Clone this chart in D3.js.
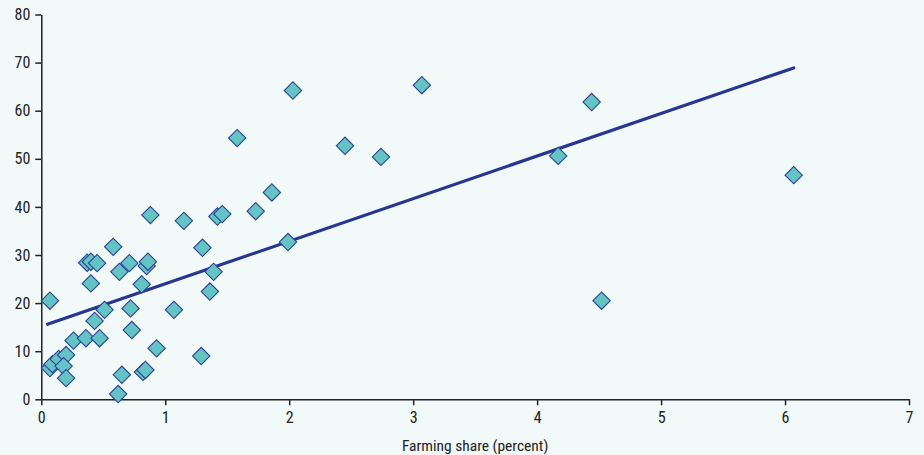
<!DOCTYPE html>
<html>
<head>
<meta charset="utf-8">
<script src="https://cdn.jsdelivr.net/npm/d3@7"></script>
<style>
  html, body { margin: 0; padding: 0; background: #f1f9f9; }
  svg { display: block; }
  text { font-family: "Liberation Sans Narrow", "Arial Narrow", "Roboto Condensed", "Liberation Sans", sans-serif; fill: #222; }
</style>
</head>
<body>
<svg id="chart" width="924" height="455"></svg>
<script>
// Farming share (percent)
const farmingShare = [0.07, 0.37, 0.40, 0.45, 0.58, 0.63, 0.71, 0.85, 0.86, 0.40, 0.81,
  0.51, 0.72, 1.07, 0.43, 0.73, 0.26, 0.36, 0.47, 0.93, 0.07, 0.09, 0.14, 0.20, 0.18, 0.20,
  0.65, 0.82, 0.84, 0.62, 1.86, 1.73, 1.15, 1.42, 1.46, 0.88, 1.30, 1.99, 1.39, 1.36, 1.29,
  1.58, 2.03, 3.07, 2.45, 2.74, 4.44, 4.17, 6.07, 4.52];
// Vertical-axis values
const yValues = [20.5, 28.4, 28.6, 28.3, 31.7, 26.5, 28.3, 27.7, 28.6, 24.1, 23.9,
  18.6, 18.9, 18.6, 16.3, 14.4, 12.2, 12.7, 12.7, 10.6, 6.5, 7.3, 8.4, 9.2, 6.9, 4.4,
  5.1, 5.7, 6.1, 1.1, 43.0, 39.1, 37.1, 38.0, 38.5, 38.3, 31.5, 32.7, 26.5, 22.4, 9.0,
  54.3, 64.2, 65.3, 52.7, 50.4, 61.8, 50.6, 46.6, 20.5];
// Fitted line end points
const fitX = [0.05, 6.07];
const fitY = [15.6, 68.9];
const xTicks = [0, 1, 2, 3, 4, 5, 6, 7];
const yTicks = [0, 10, 20, 30, 40, 50, 60, 70, 80];
const xTitle = "Farming share (percent)";

const svg = d3.select("#chart");
const mLeft = 41.3, mRight = 909, mTop = 14.5, mBottom = 399.3;
const x = d3.scaleLinear().domain([0, 7]).range([mLeft, mRight]);
const y = d3.scaleLinear().domain([0, 80]).range([mBottom, mTop]);

// axes
const xAxis = svg.append("g").attr("transform", `translate(0,${mBottom})`)
  .call(d3.axisBottom(x).tickValues(xTicks).tickFormat(d3.format("d"))
    .tickSize(6).tickPadding(6).tickSizeOuter(0));
const yAxis = svg.append("g").attr("transform", `translate(${mLeft},0)`)
  .call(d3.axisLeft(y).tickValues(yTicks).tickFormat(d3.format("d"))
    .tickSize(6).tickPadding(5).tickSizeOuter(0));
[xAxis, yAxis].forEach(g => {
  g.attr("font-family", null);
  g.select(".domain").attr("stroke", "#222").attr("stroke-width", 1.5);
  g.selectAll(".tick line").attr("stroke", "#222").attr("stroke-width", 1.5);
  g.selectAll(".tick text").attr("font-size", 16).attr("fill", "#222");
});

svg.append("text").attr("x", (x(0) + x(7)) / 2).attr("y", 451)
  .attr("text-anchor", "middle").attr("font-size", 15.5).text(xTitle);

// regression line
svg.append("line")
  .attr("x1", x(fitX[0])).attr("y1", y(fitY[0]))
  .attr("x2", x(fitX[1])).attr("y2", y(fitY[1]))
  .attr("stroke", "#283593").attr("stroke-width", 3.2).attr("stroke-linecap", "round");

// diamonds
const pts = farmingShare.map((v, i) => ({ x: v, y: yValues[i] }));
const sym = d3.symbol().type(d3.symbolSquare).size(150);
svg.append("g").selectAll("path").data(pts).join("path")
  .attr("d", sym)
  .attr("transform", d => `translate(${x(d.x)},${y(d.y)}) rotate(45)`)
  .attr("fill", "#63c5c3").attr("stroke", "#2f3f9c").attr("stroke-width", 1.1);
</script>
</body>
</html>
